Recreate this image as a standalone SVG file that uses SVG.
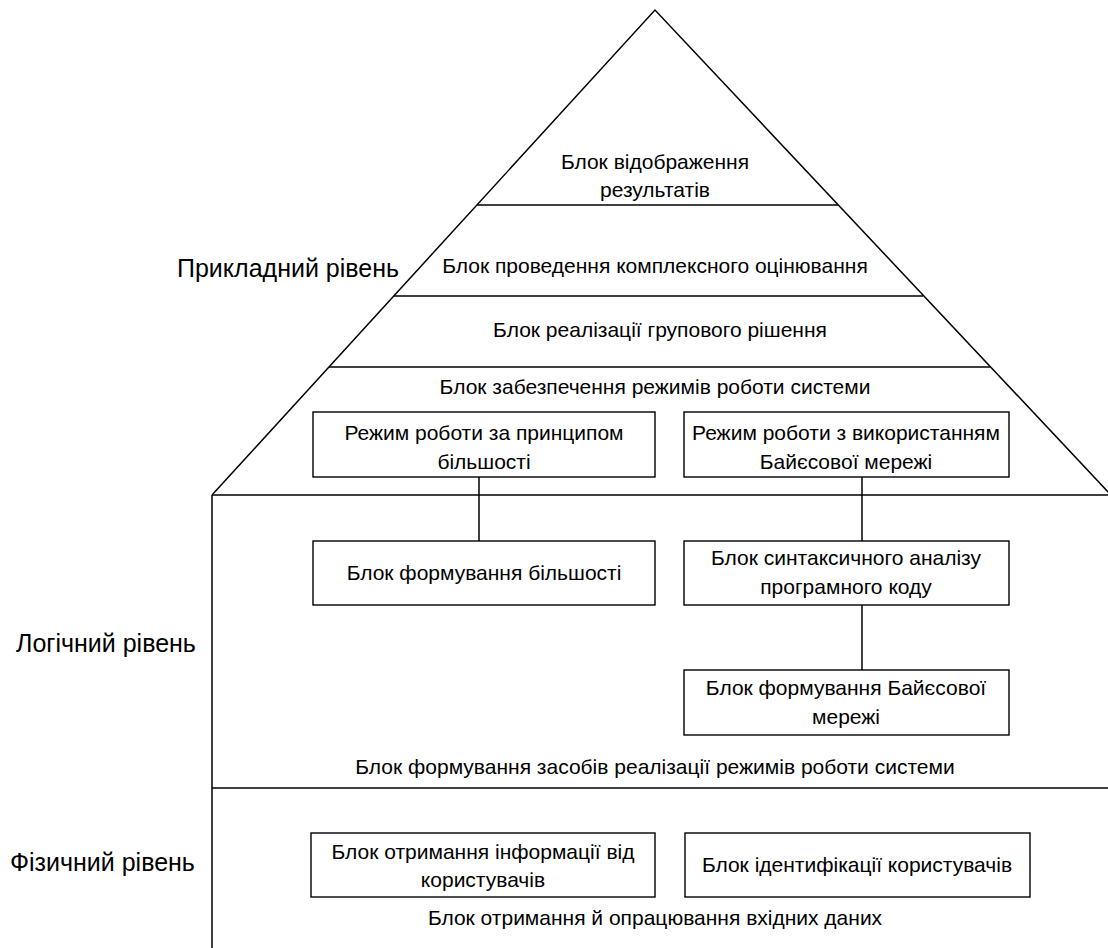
<svg xmlns="http://www.w3.org/2000/svg" width="1108" height="948" viewBox="0 0 1108 948">
<style>
.ln{stroke:#000;stroke-width:1.5;fill:none}
.bx{stroke:#000;stroke-width:1.4;fill:#fff}
text{font-family:"Liberation Sans",Arial,sans-serif;fill:#000}
.t{font-size:21px;text-anchor:middle}
.lb{font-size:25px}
</style>
<rect width="1108" height="948" fill="#fff"/>
<g id="frame">
<polyline class="ln" points="212,495 655,10 1111,495"/>
<line class="ln" x1="477" y1="205" x2="838" y2="205"/>
<line class="ln" x1="394" y1="296" x2="923" y2="296"/>
<line class="ln" x1="329" y1="367" x2="990" y2="367"/>
<line class="ln" x1="212" y1="495" x2="1108" y2="495"/>
<line class="ln" x1="212" y1="495" x2="212" y2="948"/>
<line class="ln" x1="212" y1="788" x2="1108" y2="788"/>
</g>
<g id="levels">
<text class="lb" x="177" y="277">Прикладний рівень</text>
<text class="lb" x="16" y="652">Логічний рівень</text>
<text class="lb" x="10" y="871">Фізичний рівень</text>
</g>
<g id="layers">
<text class="t" x="655" y="169">Блок відображення</text>
<text class="t" x="655" y="197">результатів</text>
<text class="t" x="655" y="273">Блок проведення комплексного оцінювання</text>
<text class="t" x="660" y="337">Блок реалізації групового рішення</text>
<text class="t" x="655" y="394">Блок забезпечення режимів роботи системи</text>
<text class="t" x="655" y="774">Блок формування засобів реалізації режимів роботи системи</text>
<text class="t" x="655" y="925">Блок отримання й опрацювання вхідних даних</text>
</g>
<g id="connectors">
<line class="ln" x1="479" y1="477" x2="479" y2="541"/>
<line class="ln" x1="862" y1="477" x2="862" y2="541"/>
<line class="ln" x1="862" y1="605" x2="862" y2="670"/>
</g>
<g id="mode-majority">
<rect class="bx" x="313" y="412" width="342" height="65"/>
<text class="t" x="484" y="440">Режим роботи за принципом</text>
<text class="t" x="484" y="469">більшості</text>
</g>
<g id="mode-bayes">
<rect class="bx" x="684" y="412" width="325" height="65"/>
<text class="t" x="846" y="440">Режим роботи з використанням</text>
<text class="t" x="846" y="469">Байєсової мережі</text>
</g>
<g id="majority-form">
<rect class="bx" x="313" y="541" width="342" height="64"/>
<text class="t" x="484" y="580">Блок формування більшості</text>
</g>
<g id="syntax">
<rect class="bx" x="684" y="541" width="325" height="64"/>
<text class="t" x="846" y="565">Блок синтаксичного аналізу</text>
<text class="t" x="846" y="594">програмного коду</text>
</g>
<g id="bayes-form">
<rect class="bx" x="684" y="670" width="325" height="65"/>
<text class="t" x="846" y="695">Блок формування Байєсової</text>
<text class="t" x="846" y="724">мережі</text>
</g>
<g id="info-receive">
<rect class="bx" x="311" y="833" width="344" height="64"/>
<text class="t" x="483" y="859">Блок отримання інформації від</text>
<text class="t" x="483" y="887">користувачів</text>
</g>
<g id="identify">
<rect class="bx" x="685" y="833" width="345" height="64"/>
<text class="t" x="857" y="872">Блок ідентифікації користувачів</text>
</g>
</svg>
